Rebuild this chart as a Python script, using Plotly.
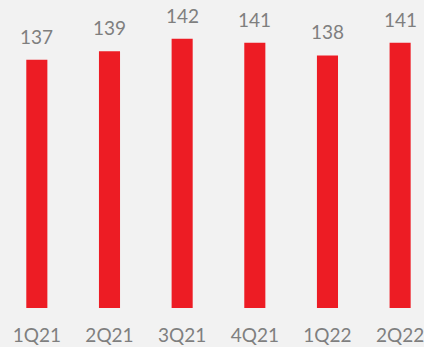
import plotly.graph_objects as go

categories = ["1Q21", "2Q21", "3Q21", "4Q21", "1Q22", "2Q22"]
values = [137, 139, 142, 141, 138, 141]
labels = ["137", "139", "142", "141", "138", "141"]

BAR = "#ED1C24"
BG = "#F2F2F2"
GREY = "#7F7F7F"
FONT = "Lato"

fig = go.Figure()
fig.add_trace(go.Bar(x=list(range(len(categories))), y=values, width=0.29,
                     marker=dict(color=BAR, line=dict(width=0)), hoverinfo="skip"))

for i, (v, t) in enumerate(zip(values, labels)):
    fig.add_annotation(x=i, y=v, text=t, showarrow=False, yanchor="bottom",
                       yshift=10, font=dict(family=FONT, size=19, color=GREY))

fig.update_layout(
    width=424, height=347,
    margin=dict(l=0, r=0, t=0, b=39),
    paper_bgcolor=BG, plot_bgcolor=BG,
    showlegend=False,
    xaxis=dict(range=[-0.507, 5.301], tickmode="array",
               tickvals=list(range(len(categories))), ticktext=categories,
               showgrid=False, zeroline=False, showline=False,
               ticks="", ticklabelstandoff=14, ticklabeloverflow="allow",
               tickfont=dict(family=FONT, size=19, color=GREY)),
    yaxis=dict(range=[77.9, 151.2], visible=False, showgrid=False, zeroline=False),
)

fig.write_html("out.html")
